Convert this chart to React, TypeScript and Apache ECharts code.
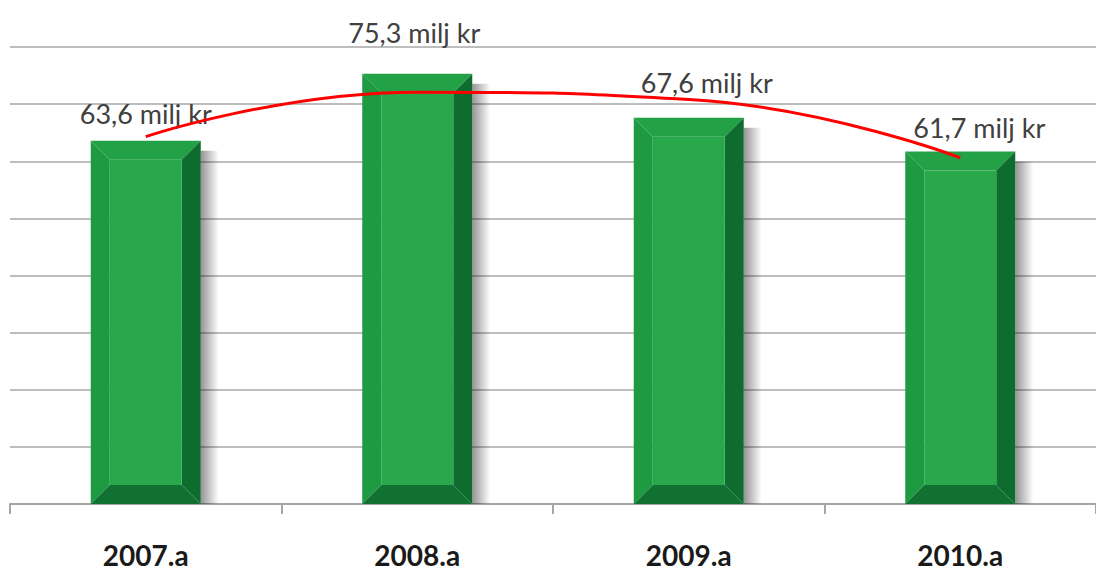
import React, { useEffect, useRef } from "react";
import * as echarts from "echarts";

const categories = ["2007.a", "2008.a", "2009.a", "2010.a"];
const revenue = [63.6, 75.3, 67.6, 61.7];
const trend = [64.3, 72.1, 70.8, 60.6];
const labelOffsets = [
  [0, -27],
  [-3, -41],
  [18, -35],
  [19, -24],
];

export default function App() {
  const ref = useRef<HTMLDivElement>(null);
  useEffect(() => {
    if (!ref.current) return;
    const chart = echarts.init(ref.current, null, { renderer: "svg" });
    const barW = 110;
    const bev = 19;
    chart.setOption({
      animation: false,
      backgroundColor: "#ffffff",
      grid: { left: 10, right: -6, top: 47, bottom: 68 },
      xAxis: {
        type: "category",
        data: categories,
        axisLine: { lineStyle: { color: "#a6a6a6", width: 2 } },
        axisTick: { show: true, length: 10, lineStyle: { color: "#a6a6a6", width: 2 } },
        axisLabel: {
          color: "#1a1a1a",
          fontFamily: "Lato",
          fontWeight: "bold",
          fontSize: 28,
          margin: 37,
        },
      },
      yAxis: {
        type: "value",
        min: 0,
        max: 80,
        interval: 10,
        axisLine: { show: false },
        axisTick: { show: false },
        axisLabel: { show: false },
        splitLine: { lineStyle: { color: "#bdbdbd", width: 2 } },
      },
      series: [
        {
          type: "custom",
          data: revenue.map((v, i) => [i, v]),
          encode: { x: 0, y: 1 },
          z: 2,
          renderItem: (params: any, api: any) => {
            const idx = api.value(0);
            const val = api.value(1);
            const top = api.coord([idx, val]);
            const base = api.coord([idx, 0]);
            const x0 = top[0] - barW / 2;
            const x1 = top[0] + barW / 2;
            const y0 = top[1];
            const y1 = base[1];
            const off = labelOffsets[idx] || [0, -20];
            const txt = val.toFixed(1).replace(".", ",") + " milj kr";
            return {
              type: "group",
              children: [
                {
                  type: "rect",
                  shape: { x: x1, y: y0 + 10, width: 18, height: y1 - y0 - 10 },
                  style: {
                    fill: new echarts.graphic.LinearGradient(0, 0, 1, 0, [
                      { offset: 0, color: "rgba(0,0,0,0.42)" },
                      { offset: 1, color: "rgba(0,0,0,0)" },
                    ]),
                  },
                },
                {
                  type: "polygon",
                  shape: { points: [[x0, y0], [x1, y0], [x1 - bev, y0 + bev], [x0 + bev, y0 + bev]] },
                  style: { fill: "#22a146" },
                },
                {
                  type: "polygon",
                  shape: { points: [[x0, y0], [x0 + bev, y0 + bev], [x0 + bev, y1 - bev], [x0, y1]] },
                  style: { fill: "#1e9a42" },
                },
                {
                  type: "polygon",
                  shape: { points: [[x1, y0], [x1, y1], [x1 - bev, y1 - bev], [x1 - bev, y0 + bev]] },
                  style: { fill: "#0f6c2f" },
                },
                {
                  type: "polygon",
                  shape: { points: [[x0, y1], [x1, y1], [x1 - bev, y1 - bev], [x0 + bev, y1 - bev]] },
                  style: { fill: "#117131" },
                },
                {
                  type: "rect",
                  shape: { x: x0 + bev, y: y0 + bev, width: barW - 2 * bev, height: y1 - y0 - 2 * bev },
                  style: { fill: "#29a74b" },
                },
                {
                  type: "text",
                  x: top[0] + off[0],
                  y: y0 + off[1],
                  style: {
                    text: txt,
                    fill: "#404040",
                    fontFamily: "Lato",
                    fontSize: 27,
                    align: "center",
                    verticalAlign: "middle",
                  },
                },
              ],
            };
          },
        },
        {
          type: "line",
          data: trend,
          smooth: 0.5,
          symbol: "none",
          z: 10,
          lineStyle: { color: "#ff0000", width: 3 },
        },
      ],
    });
    return () => chart.dispose();
  }, []);
  return (
    <div
      ref={ref}
      style={{ position: "fixed", left: 0, top: 0, width: 1096, height: 572 }}
    />
  );
}
